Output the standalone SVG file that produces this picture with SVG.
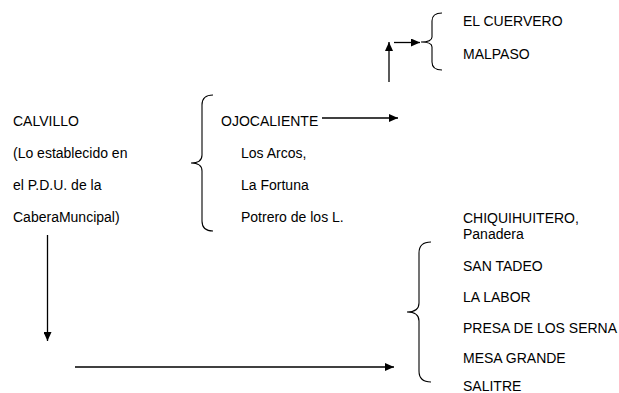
<svg xmlns="http://www.w3.org/2000/svg" width="619" height="393" viewBox="0 0 619 393">
<style>
text{font-family:"Liberation Sans",Arial,sans-serif;font-size:14px;fill:#000}
.brace{fill:none;stroke:#000;stroke-width:1.1}
.conn{fill:none;stroke:#000;stroke-width:1.3}
</style>
<defs>
<marker id="ah" markerUnits="userSpaceOnUse" markerWidth="10" markerHeight="8" refX="9" refY="4" orient="auto">
<path d="M0,0 L9,4 L0,8 Z" fill="#000"/>
</marker>
</defs>
<rect width="619" height="393" fill="#fff"/>
<g id="calvillo">
<text x="13" y="125.5">CALVILLO</text>
<text x="13" y="157.5">(Lo establecido en</text>
<text x="13" y="189.5">el P.D.U. de la</text>
<text x="13" y="221.5">CaberaMuncipal)</text>
</g>
<g id="ojocaliente">
<path class="brace" d="M213,95 Q202,95 202,105 L202,155 Q202,163 191,163 Q202,163 202,171 L202,221 Q202,231 213,231"/>
<text x="221" y="125.5">OJOCALIENTE</text>
<text x="241" y="157.5">Los Arcos,</text>
<text x="241" y="189.5">La Fortuna</text>
<text x="241" y="221.5">Potrero de los L.</text>
</g>
<g id="cuervero">
<path class="brace" d="M442,13 Q432,13 432,21 L432,37 Q432,42 421,42 Q432,42 432,47 L432,62 Q432,70 442,70"/>
<text x="463" y="26">EL CUERVERO</text>
<text x="463" y="59">MALPASO</text>
</g>
<g id="localidades">
<path class="brace" d="M431,242 Q419,242 419,253 L419,303 Q419,312 407,312 Q419,312 419,321 L419,371 Q419,382 431,382"/>
<text x="463" y="223">CHIQUIHUITERO,</text>
<text x="463" y="239">Panadera</text>
<text x="463" y="271">SAN TADEO</text>
<text x="463" y="302">LA LABOR</text>
<text x="463" y="332.5">PRESA DE LOS SERNA</text>
<text x="463" y="363">MESA GRANDE</text>
<text x="463" y="390.5">SALITRE</text>
</g>
<g id="connectors">
<line class="conn" x1="322" y1="118" x2="398" y2="118" marker-end="url(#ah)"/>
<line class="conn" x1="389" y1="82" x2="389" y2="42" marker-end="url(#ah)"/>
<line class="conn" x1="394" y1="42.5" x2="420" y2="42.5" marker-end="url(#ah)"/>
<line class="conn" x1="47.5" y1="235" x2="47.5" y2="341" marker-end="url(#ah)"/>
<line class="conn" x1="75" y1="367" x2="394" y2="367" marker-end="url(#ah)"/>
</g>
</svg>
